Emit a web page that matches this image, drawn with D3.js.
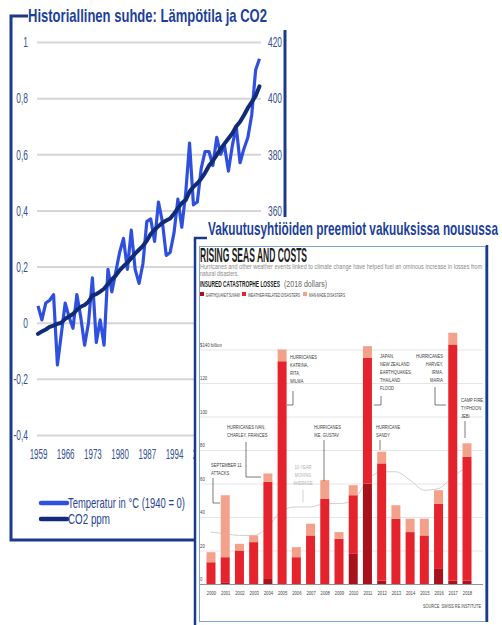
<!DOCTYPE html>
<html>
<head>
<meta charset="utf-8">
<script src="https://cdnjs.cloudflare.com/ajax/libs/d3/7.8.5/d3.min.js"></script>
<style>
body{margin:0;background:#fff;}
svg{display:block;font-family:"Liberation Sans",Arial,sans-serif;}
</style>
</head>
<body>
<div id="chart"></div>
<script>
// left chart: temperature and CO2, 1959-2016
var years = [1959,1960,1961,1962,1963,1964,1965,1966,1967,1968,1969,
  1970,1971,1972,1973,1974,1975,1976,1977,1978,1979,
  1980,1981,1982,1983,1984,1985,1986,1987,1988,1989,
  1990,1991,1992,1993,1994,1995,1996,1997,1998,1999,
  2000,2001,2002,2003,2004,2005,2006,2007,2008,2009,
  2010,2011,2012,2013,2014,2015,2016];
var temperature = [0.06,0.01,0.07,0.08,0.10,-0.15,-0.04,0.07,0.02,-0.02,0.10,
  0.02,-0.08,0.00,0.16,-0.07,0.01,-0.08,0.19,0.11,0.18,
  0.25,0.30,0.19,0.33,0.19,0.14,0.21,0.36,0.37,0.29,
  0.43,0.36,0.24,0.25,0.32,0.44,0.34,0.46,0.64,0.42,
  0.43,0.55,0.61,0.61,0.56,0.66,0.60,0.63,0.54,0.63,
  0.70,0.57,0.62,0.66,0.74,0.90,0.94];
var co2 = [316.0,316.9,317.6,318.5,319.0,319.6,320.0,321.4,322.2,323.1,324.6,
  325.7,326.3,327.5,329.7,330.2,331.1,332.1,333.8,335.4,336.8,
  338.7,340.1,341.4,343.0,344.6,346.0,347.4,349.2,351.6,353.1,
  354.4,355.6,356.4,357.1,358.8,360.8,362.6,363.7,366.7,368.4,
  369.7,371.3,373.4,375.9,377.7,379.8,381.9,383.8,385.6,387.4,
  389.9,391.6,393.9,396.5,398.6,400.8,404.2];
var tempTicks = [-0.4,-0.2,0,0.2,0.4,0.6,0.8,1];
var co2Ticks = [360,380,400,420];
var yearTicks = [1959,1966,1973,1980,1987,1994,2001];   // later ones sit under the second panel

// right chart: insured catastrophe losses, $ billion (2018 dollars)
var lossYears = ["2000","2001","2002","2003","2004","2005","2006","2007","2008","2009",
  "2010","2011","2012","2013","2014","2015","2016","2017","2018"];
var quake   = [0,1,0,0,3,0,0,0,0,0,18,60,2,0,0,0,9,2,2];
var weather = [13,15,20,25,58,133,16,29,51,27,35,75,70,39,31,29,39,141,74];
var manMade = [6,37,4,4,5,7,6,7,11,4,6,7,7,8,8,10,8,7,8];
var movingAvg = [31,30,29,29,34,44,46,46,48,48,50,62,67,67,62,56,57,64,70];
var lossTicks = [0,20,40,60,80,100,120,140];

var navy = "#1b3a8a";

function squeeze(sel, f) {
  sel.each(function() {
    var w = this.getComputedTextLength();
    if (w > 0) d3.select(this).attr("textLength", w * f).attr("lengthAdjust", "spacingAndGlyphs");
  });
}
function fitTo(sel, w) {
  sel.attr("textLength", w).attr("lengthAdjust", "spacingAndGlyphs");
}

var svg = d3.select("#chart").append("svg")
  .attr("width", 502)
  .attr("height", 625);
svg.append("rect").attr("width", 502).attr("height", 625).attr("fill", "#fff");

// ---------- left chart ----------
var x = d3.scaleLinear().domain([1959, 2016]).range([38, 259.5]);
var yT = d3.scaleLinear().domain([-0.4, 1]).range([435, 42]);
var yC = d3.scaleLinear().domain([280, 420]).range([435, 42]);

var fmtT = function(d) { return String(d).replace(".", ","); };

var gLeft = svg.append("g")
  .attr("transform", "translate(37,0)")
  .call(d3.axisLeft(yT).tickValues(tempTicks).tickFormat(fmtT).tickSizeInner(-224).tickSizeOuter(0).tickPadding(9));
gLeft.select(".domain").remove();
gLeft.selectAll("line").attr("stroke", "#d6d6d6").attr("stroke-width", 2);
gLeft.selectAll("text").attr("font-size", 15).attr("fill", "#34508f").attr("font-family", "Liberation Sans, Arial, sans-serif");
squeeze(gLeft.selectAll("text"), 0.56);

var gRight = svg.append("g")
  .attr("transform", "translate(262,0)")
  .call(d3.axisRight(yC).tickValues(co2Ticks).tickSize(0).tickPadding(6));
gRight.select(".domain").remove();
gRight.selectAll("text").attr("font-size", 15).attr("fill", "#34508f").attr("font-family", "Liberation Sans, Arial, sans-serif");
squeeze(gRight.selectAll("text"), 0.56);

var gBottom = svg.append("g")
  .attr("transform", "translate(0,446)")
  .call(d3.axisBottom(x).tickValues(yearTicks).tickFormat(d3.format("d")).tickSize(0).tickPadding(2));
gBottom.select(".domain").remove();
gBottom.selectAll("text").attr("font-size", 15).attr("fill", "#34508f").attr("font-family", "Liberation Sans, Arial, sans-serif");
squeeze(gBottom.selectAll("text"), 0.53);

var tempLine = d3.line()
  .x(function(d, i) { return x(years[i]); })
  .y(function(d) { return yT(d); });
var co2Line = d3.line()
  .x(function(d, i) { return x(years[i]); })
  .y(function(d) { return yC(d); });

svg.append("path").datum(temperature)
  .attr("d", tempLine)
  .attr("fill", "none")
  .attr("stroke", "#2f50df")
  .attr("stroke-width", 3.2)
  .attr("stroke-linejoin", "round");
svg.append("path").datum(co2)
  .attr("d", co2Line)
  .attr("fill", "none")
  .attr("stroke", "#102c78")
  .attr("stroke-width", 4)
  .attr("stroke-linecap", "round")
  .attr("stroke-linejoin", "round");

// frame + title
svg.append("path").attr("d", "M28,16H11V540H196").attr("fill", "none").attr("stroke", navy).attr("stroke-width", 3);
svg.append("path").attr("d", "M285,30V217").attr("fill", "none").attr("stroke", navy).attr("stroke-width", 3);
svg.append("text").attr("x", 28).attr("y", 22)
  .attr("font-size", 19).attr("font-weight", "bold").attr("fill", "#1e3f9c")
  .text("Historiallinen suhde: Lämpötila ja CO2")
  .call(fitTo, 239);

// legend
svg.append("line").attr("x1", 41).attr("x2", 67).attr("y1", 503).attr("y2", 503)
  .attr("stroke", "#2f50df").attr("stroke-width", 4.5).attr("stroke-linecap", "round");
svg.append("line").attr("x1", 41).attr("x2", 67).attr("y1", 519).attr("y2", 519)
  .attr("stroke", "#102c78").attr("stroke-width", 4.5).attr("stroke-linecap", "round");
svg.append("text").attr("x", 68).attr("y", 508).attr("font-size", 15).attr("fill", "#2a4593")
  .text("Temperatur in °C (1940 = 0)").call(fitTo, 117);
svg.append("text").attr("x", 68).attr("y", 524).attr("font-size", 15).attr("fill", "#2a4593")
  .text("CO2 ppm").call(fitTo, 42);

// ---------- right panel (insured losses) ----------
svg.append("rect").attr("x", 194).attr("y", 238).attr("width", 308).attr("height", 387).attr("fill", "#fff");
svg.append("rect").attr("x", 199.5).attr("y", 246.5).attr("width", 286).attr("height", 375)
  .attr("fill", "#fff").attr("stroke", "#7ea3d8").attr("stroke-width", 1);
svg.append("path").attr("d", "M207,238H195V625").attr("fill", "none").attr("stroke", navy).attr("stroke-width", 2.5);
svg.append("path").attr("d", "M487,245V622").attr("fill", "none").attr("stroke", navy).attr("stroke-width", 2.5);
svg.append("text").attr("x", 208).attr("y", 235)
  .attr("font-size", 19).attr("font-weight", "bold").attr("fill", "#1e3f9c")
  .text("Vakuutusyhtiöiden preemiot vakuuksissa nousussa")
  .call(fitTo, 290);

var photo = svg.append("g");
photo.append("text").attr("x", 200).attr("y", 262)
  .attr("font-size", 21).attr("font-weight", "bold").attr("fill", "#1d1d1d")
  .text("RISING SEAS AND COSTS").call(fitTo, 107);
photo.append("text").attr("x", 200).attr("y", 269)
  .attr("font-size", 6.5).attr("fill", "#8a8a8a")
  .text("Hurricanes and other weather events linked to climate change have helped fuel an ominous increase in losses from")
  .call(fitTo, 282);
photo.append("text").attr("x", 200).attr("y", 276)
  .attr("font-size", 6.5).attr("fill", "#8a8a8a")
  .text("natural disasters.").call(squeeze, 0.78);
photo.append("text").attr("x", 200).attr("y", 287)
  .attr("font-size", 8.5).attr("font-weight", "bold").attr("fill", "#1d1d1d")
  .text("INSURED CATASTROPHE LOSSES").call(fitTo, 80);
photo.append("text").attr("x", 284).attr("y", 287)
  .attr("font-size", 8.5).attr("fill", "#666")
  .text("(2018 dollars)").call(fitTo, 43);

var layerColors = {quake: "#a8121c", weather: "#e5232c", manmade: "#f4a18b"};
var legendItems = [
  {key: "quake", label: "EARTHQUAKE/TSUNAMI", x: 200, w: 34},
  {key: "weather", label: "WEATHER-RELATED DISASTERS", x: 242, w: 52},
  {key: "manmade", label: "MAN-MADE DISASTERS", x: 303, w: 36}
];
legendItems.forEach(function(l) {
  photo.append("rect").attr("x", l.x).attr("y", 292).attr("width", 4).attr("height", 4).attr("fill", layerColors[l.key]);
  photo.append("text").attr("x", l.x + 6).attr("y", 296.5).attr("font-size", 5).attr("fill", "#444")
    .text(l.label).call(fitTo, l.w);
});

var xB = d3.scalePoint().domain(lossYears).range([211, 467]);
var yB = d3.scaleLinear().domain([0, 140]).range([584, 349.5]);
var barW = 9;

var gB = photo.append("g")
  .attr("transform", "translate(200,0)")
  .call(d3.axisRight(yB).tickValues(lossTicks).tickSize(283)
    .tickFormat(function(d) { return d === 140 ? "$140 billion" : d; }));
gB.select(".domain").remove();
gB.selectAll("line").attr("stroke", function(d) { return d === 0 ? "#777" : "#dedede"; }).attr("stroke-width", 0.8);
gB.selectAll("text").attr("x", 0).attr("dy", -3.5).attr("text-anchor", "start")
  .attr("font-size", 6).attr("fill", "#444").attr("font-family", "Liberation Sans, Arial, sans-serif");
squeeze(gB.selectAll("text"), 0.72);

// moving average (drawn behind bars)
photo.append("path").datum(movingAvg)
  .attr("d", d3.line().x(function(d, i) { return xB(lossYears[i]); }).y(function(d) { return yB(d); }).curve(d3.curveMonotoneX))
  .attr("fill", "none").attr("stroke", "#cfcfcf").attr("stroke-width", 1);

var lossRows = lossYears.map(function(yr, i) {
  return {year: yr, quake: quake[i], weather: weather[i], manmade: manMade[i]};
});
var stacked = d3.stack().keys(["quake", "weather", "manmade"])(lossRows);

photo.selectAll(".layer")
  .data(stacked)
  .enter().append("g")
  .attr("class", "layer")
  .attr("fill", function(d) { return layerColors[d.key]; })
  .selectAll("rect")
  .data(function(d) { return d; })
  .enter().append("rect")
  .attr("x", function(d) { return xB(d.data.year) - barW / 2; })
  .attr("width", barW)
  .attr("y", function(d) { return yB(d[1]); })
  .attr("height", function(d) { return yB(d[0]) - yB(d[1]); });

var gBx = photo.append("g")
  .attr("transform", "translate(0,589)")
  .call(d3.axisBottom(xB).tickSize(0).tickPadding(2));
gBx.select(".domain").remove();
gBx.selectAll("text").attr("font-size", 6).attr("fill", "#444").attr("font-family", "Liberation Sans, Arial, sans-serif");
squeeze(gBx.selectAll("text"), 0.7);

photo.append("text").attr("x", 481).attr("y", 608).attr("text-anchor", "end")
  .attr("font-size", 5.5).attr("fill", "#444")
  .text("SOURCE: SWISS RE INSTITUTE").call(fitTo, 58);

// annotations
var notes = [
  {lines: ["HURRICANES", "KATRINA,", "RITA,", "WILMA"], x: 290, y: 359, anchor: "start"},
  {lines: ["JAPAN,", "NEW ZEALAND", "EARTHQUAKES,", "THAILAND", "FLOOD"], x: 380, y: 358, anchor: "start"},
  {lines: ["HURRICANES", "HARVEY,", "IRMA,", "MARIA"], x: 443, y: 358, anchor: "end"},
  {lines: ["CAMP FIRE,", "TYPHOON", "JEBI"], x: 461, y: 402, anchor: "start"},
  {lines: ["HURRICANE", "SANDY"], x: 376, y: 429, anchor: "start"},
  {lines: ["HURRICANES", "IKE, GUSTAV"], x: 314, y: 429, anchor: "start"},
  {lines: ["HURRICANES IVAN,", "CHARLEY, FRANCES"], x: 227, y: 429, anchor: "start"},
  {lines: ["SEPTEMBER 11", "ATTACKS"], x: 211, y: 467, anchor: "start"},
  {lines: ["10-YEAR", "MOVING", "AVERAGE"], x: 303, y: 469, anchor: "middle", color: "#b0b0b0"}
];
notes.forEach(function(n) {
  n.lines.forEach(function(t, k) {
    photo.append("text").attr("x", n.x).attr("y", n.y + k * 8)
      .attr("text-anchor", n.anchor).attr("font-size", 5.5)
      .attr("fill", n.color || "#3a3a3a")
      .text(t).call(squeeze, 0.74);
  });
});
var leaders = [
  "M287,405H293V391", "M374,405H381V396", "M446,405H435V387", "M465,421V438",
  "M380,440V450", "M324,440V481", "M246,442V477H261", "M213,478V503H220", "M303,490V502"
];
leaders.forEach(function(p, i) {
  photo.append("path").attr("d", p).attr("fill", "none")
    .attr("stroke", i === leaders.length - 1 ? "#bbb" : "#444").attr("stroke-width", 0.7);
});
</script>
</body>
</html>
